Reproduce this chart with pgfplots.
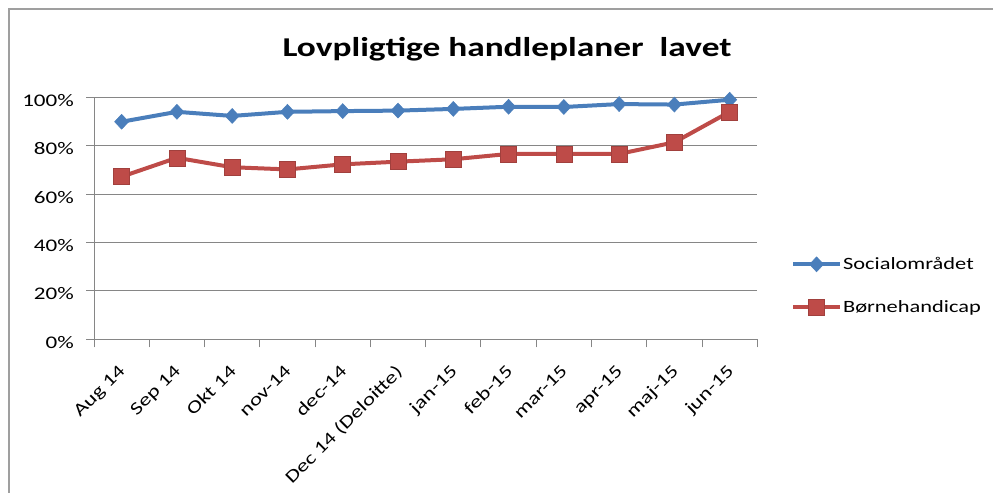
\documentclass[border=0pt]{standalone}
\usepackage{pgfplots}
\pgfplotsset{compat=1.18}
\usepackage{fontspec}
\setmainfont{Carlito}[FakeStretch=1.3]
\definecolor{sblue}{HTML}{4A7EBB}
\definecolor{sred}{HTML}{BE4B48}
\definecolor{gridgray}{HTML}{868686}
\begin{document}
\begin{tikzpicture}[x=1bp,y=1bp]
\path[use as bounding box] (0bp,0bp) rectangle (993bp,-493bp);
\draw[gray!75, line width=1.6bp] (9bp,-493bp) -- (9bp,-9bp) -- (993bp,-9bp);
\node[font=\fontsize{27.3}{30}\selectfont\bfseries, inner sep=0pt] at (507bp,-49bp) {Lovpligtige handleplaner\ \ lavet};
\begin{axis}[
  at={(94bp,-339.3bp)}, anchor=south west,
  scale only axis, width=663.3bp, height=242bp,
  xmin=0, xmax=12, ymin=0, ymax=100,
  axis lines*=left,
  axis line style={gridgray, line width=1bp},
  tick align=outside,
  major tick length=8bp,
  tick style={gridgray, line width=1bp},
  xtick={0,...,12},
  x tick label as interval,
  xticklabels={Aug 14, Sep 14, Okt 14, nov-14, dec-14, Dec 14 (Deloitte), jan-15, feb-15, mar-15, apr-15, maj-15, jun-15},
  xticklabel style={rotate=45, anchor=north east, inner sep=0pt, xshift=-14.1bp, yshift=-8.8bp},
  ytick={0,20,...,100},
  yticklabel={\pgfmathprintnumber{\tick}\%},
  yticklabel style={anchor=east, inner sep=0pt, xshift=-12bp, yshift=-3bp},
  /pgf/number format/assume math mode=true,
  tick label style={font=\fontsize{17.8}{20}\selectfont},
  ymajorgrids,
  grid style={gridgray, line width=1bp},
  clip=false,
  legend style={draw=none, fill=none, at={(axis description cs:1.0509,0.221)}, anchor=west,
    inner sep=0pt, outer sep=0pt, row sep=27bp,
    font=\fontsize{17.3}{20}\selectfont,
    nodes={inner sep=1bp}},
  legend cell align=left,
  legend image code/.code={\draw[mark repeat=2,mark phase=2,#1] plot coordinates {(0bp,0bp) (23.5bp,0bp) (47bp,0bp)};},
]
\addplot[color=sblue, line width=4bp, mark=diamond*, mark size=7.5bp, mark options={fill=sblue, draw=sblue, line width=0.5bp, xscale=1.25}]
  coordinates {(0.5,89.9) (1.5,94.0) (2.5,92.3) (3.5,94.0) (4.5,94.3) (5.5,94.5) (6.5,95.2) (7.5,96.1) (8.5,96.0) (9.5,97.2) (10.5,97.0) (11.5,99.0)};
\addlegendentry{Socialområdet}
\addplot[color=sred, line width=4bp, mark=square*, mark size=8bp, mark options={fill=sred, draw=sred!85!black, line width=0.5bp}]
  coordinates {(0.5,67.2) (1.5,75.0) (2.5,71.1) (3.5,70.2) (4.5,72.3) (5.5,73.4) (6.5,74.4) (7.5,76.6) (8.5,76.6) (9.5,76.6) (10.5,81.4) (11.5,94.0)};
\addlegendentry{Børnehandicap}
\end{axis}
\end{tikzpicture}
\end{document}
